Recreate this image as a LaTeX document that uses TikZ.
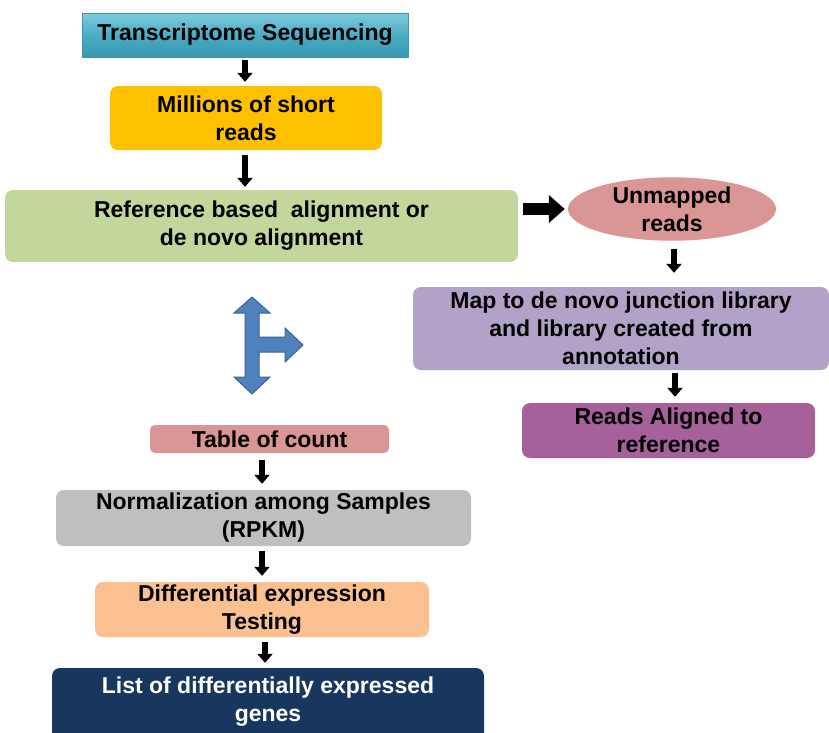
\documentclass[tikz,border=0pt]{standalone}
\usepackage{fontspec}
\setmainfont{Liberation Sans}
\usetikzlibrary{shapes.geometric,arrows.meta,calc}
\definecolor{cteal}{HTML}{4BACC6}
\definecolor{ctealL}{HTML}{7FCBDD}
\definecolor{ctealD}{HTML}{3797B0}
\definecolor{cgold}{HTML}{FFC000}
\definecolor{cgreen}{HTML}{C3D69B}
\definecolor{cpink}{HTML}{D99694}
\definecolor{clav}{HTML}{B3A2C7}
\definecolor{cpurp}{HTML}{A6609A}
\definecolor{cgray}{HTML}{BFBFBF}
\definecolor{cpeach}{HTML}{FAC090}
\definecolor{cnavy}{HTML}{17375E}
\definecolor{cblue}{HTML}{4F81BD}
\definecolor{cblueD}{HTML}{3A6496}
\tikzset{
  box/.style={rounded corners=8pt, inner sep=0pt, align=center, font=\fontsize{23}{28}\selectfont\bfseries},
  blk/.style={line width=6pt, -{Triangle[length=9pt,width=15pt]}, black},
  bigblk/.style={line width=12pt, -{Triangle[length=16pt,width=27pt]}, black},
}
\begin{document}
\begin{tikzpicture}[x=1pt,y=-1pt]
\useasboundingbox (0,0) rectangle (829,732);
\fill[white] (0,0) rectangle (829,732);
% nodes
\node[box, rounded corners=0pt, top color=ctealL, bottom color=ctealD, middle color=cteal, draw=ctealD, line width=0.6pt, minimum width=326pt, minimum height=44pt] (ts) at (245,35) {Transcriptome Sequencing};
\node[box, fill=cgold, minimum width=272pt, minimum height=64pt] (mr) at (246,118) {Millions of short\\reads};
\node[box, fill=cgreen, minimum width=513pt, minimum height=72pt] (rba) at (261.5,226) {Reference based\ \ alignment or\\de novo alignment};
\node[box, ellipse, fill=cpink, minimum width=208pt, minimum height=62pt] (um) at (672,209) {Unmapped\\reads};
\node[box, fill=clav, minimum width=416pt, minimum height=83pt] (map) at (621,328.5) {Map to de novo junction library\\and library created from\\annotation};
\node[box, fill=cpurp, minimum width=293pt, minimum height=55pt] (ra) at (668.5,430.5) {Reads Aligned to\\reference};
\node[box, rounded corners=5pt, fill=cpink, minimum width=239pt, minimum height=28pt] (tc) at (269.5,439) {Table of count};
\node[box, fill=cgray, minimum width=415pt, minimum height=56pt] (nm) at (263.5,518) {Normalization among Samples\\(RPKM)};
\node[box, fill=cpeach, minimum width=334pt, minimum height=55pt] (de) at (262,609.5) {Differential expression\\Testing};
\node[box, fill=cnavy, minimum width=432pt, minimum height=78pt] (lg) at (268,707) {};
\node[box, text=white, anchor=center] (lgt) at (268,702) {List of differentially expressed\\genes};
% connectors
\draw[blk, shorten <=3pt, shorten >=4pt] (ts.south) -- (ts.south |- mr.north);
\draw[blk, shorten <=5pt, shorten >=3pt] ($(mr.south)+(-1,0)$) -- ($(mr.south |- rba.north)+(-1,0)$);
\draw[bigblk, shorten <=5pt, shorten >=3pt] (rba.east |- um.west) -- (um.west);
\draw[blk, shorten <=8pt, shorten >=14pt] ($(um.south)+(2,0)$) -- ($(um.south |- map.north)+(2,0)$);
\draw[blk, shorten <=3pt, shorten >=6pt] ($(map.south)+(54,0)$) -- ($(map.south |- ra.north)+(54,0)$);
\draw[blk, shorten <=7pt, shorten >=6pt] ($(tc.south)+(-7.5,0)$) -- ($(tc.south |- nm.north)+(-7.5,0)$);
\draw[blk, shorten <=5pt, shorten >=6pt] ($(nm.south)+(-1.5,0)$) -- ($(nm.south |- de.north)+(-1.5,0)$);
\draw[blk, shorten <=5pt, shorten >=5pt] ($(de.south)+(3,0)$) -- ($(de.south |- lg.north)+(3,0)$);
% blue three-way arrow
\filldraw[fill=cblue, draw=cblueD, line width=1pt, line join=miter]
  (252,297) -- (270,313) -- (259,313) -- (259,337) -- (285,337) -- (285,328) -- (303,345)
  -- (285,362) -- (285,352) -- (259,352) -- (259,377) -- (270,377) -- (252,394)
  -- (234,377) -- (245,377) -- (245,313) -- (234,313) -- cycle;
\end{tikzpicture}
\end{document}
